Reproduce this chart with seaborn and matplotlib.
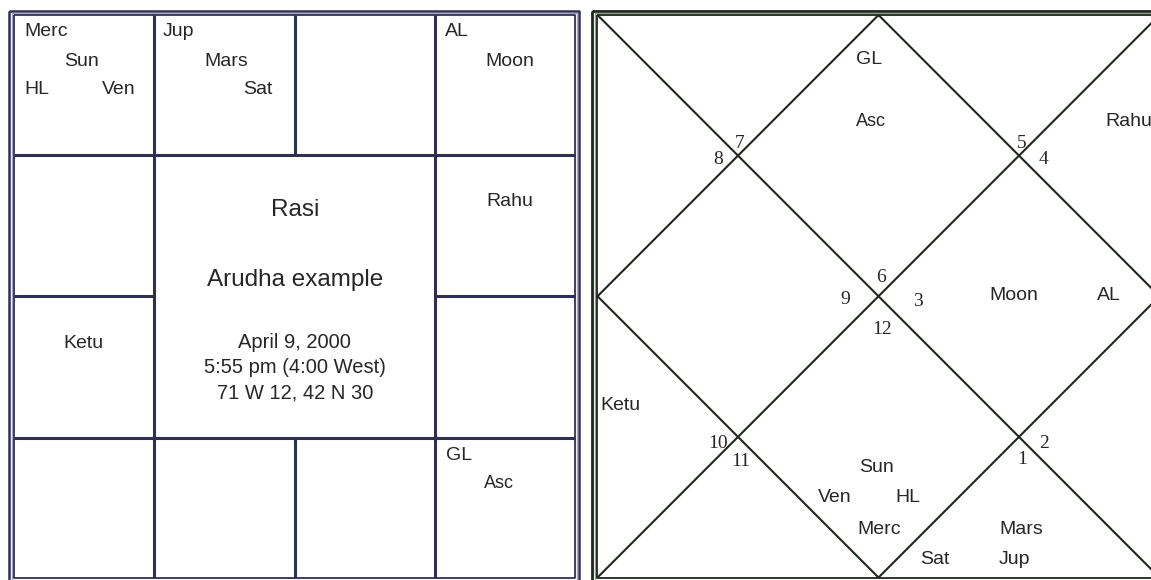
import pandas as pd
import matplotlib.pyplot as plt
import seaborn as sns

# chart texts
south_planets = ["Merc", "Sun", "HL", "Ven", "Jup", "Mars", "Sat",
                 "AL", "Moon", "Rahu", "Ketu", "GL", "Asc"]
south_title = "Rasi"
south_subtitle = "Arudha example"
birth_info = ["April 9, 2000", "5:55 pm (4:00 West)", "71 W 12, 42 N 30"]

north_planets = ["GL", "Asc", "Rahu", "Moon", "AL", "Ketu",
                 "Sun", "Ven", "HL", "Merc", "Mars", "Sat", "Jup"]
north_signs = ["7", "8", "5", "4", "6", "9", "3", "12", "10", "11", "2", "1"]

# layout (pixel coords of the picture)
south_pos = [(24, 32, "left"), (82, 61, "center"), (24, 90, "left"), (119, 90, "center"),
             (163, 32, "left"), (226, 61, "center"), (258, 90, "center"),
             (445, 32, "left"), (510, 61, "center"), (510, 202, "center"),
             (83, 343, "center"), (446, 455, "left"), (499, 484, "center")]
north_pos = [(869, 60, "center"), (871, 122, "center"), (1105, 122, "left"),
             (989, 295, "left"), (1097, 295, "left"), (600, 405, "left"),
             (877, 467, "center"), (835, 498, "center"), (908, 498, "center"),
             (879, 529, "center"), (1021, 529, "center"), (935, 560, "center"),
             (1014, 560, "center")]
sign_pos = [(740, 143), (718, 160), (1022, 144), (1044, 160), (881, 277), (845, 300),
            (918, 302), (882, 329), (718, 443), (741, 461), (1044, 443), (1022, 460)]


def segs_df(segs):
    rows = []
    for i, pts in enumerate(segs):
        for k, (x, y) in enumerate(pts):
            rows.append({"seg": i, "order": k, "x": x, "y": y})
    return pd.DataFrame(rows)


def rect(x0, y0, x1, y1):
    return [(x0, y0), (x1, y0), (x1, y1), (x0, y1), (x0, y0)]


def draw(ax, segs, color, lw):
    sns.lineplot(data=segs_df(segs), x="x", y="y", units="seg", estimator=None,
                 sort=False, color=color, linewidth=lw, ax=ax, legend=False,
                 solid_capstyle="butt")


sns.set_theme(style="white")
plt.rcParams["font.family"] = ["Liberation Sans", "DejaVu Sans"]

fig = plt.figure(figsize=(11.51, 5.80), dpi=100)
ax = fig.add_axes([0, 0, 1, 1])

# ---- south indian chart ----
navy = "#2f2f52"
xs = [14.5, 154, 295, 435.5, 575]
ys = [15, 155, 296, 437.5, 577.5]
draw(ax, [rect(9.5, 10.5, 579, 585)], navy, 1.8)
draw(ax, [rect(12, 13, 577, 582)], "#a6a6be", 1.0)
draw(ax, [rect(xs[0], ys[0], xs[4], ys[4])], navy, 1.3)
grid = [
    [(xs[0], ys[1]), (xs[4], ys[1])],
    [(xs[0], ys[3]), (xs[4], ys[3])],
    [(xs[0], ys[2]), (xs[1], ys[2])],
    [(xs[3], ys[2]), (xs[4], ys[2])],
    [(xs[1], ys[0]), (xs[1], ys[4])],
    [(xs[3], ys[0]), (xs[3], ys[4])],
    [(xs[2], ys[0]), (xs[2], ys[1])],
    [(xs[2], ys[3]), (xs[2], ys[4])],
]
draw(ax, grid, navy, 2.2)

txt = "#262626"
for name, (x, y, ha) in zip(south_planets, south_pos):
    fam = ["Liberation Sans Narrow", "Liberation Sans"] if name == "Asc" else None
    ax.text(x, y, name, ha=ha, va="center", fontsize=14 if name != "Asc" else 13,
            color=txt, family=fam)

cx = (xs[1] + xs[3]) / 2
ax.text(cx, 210, south_title, ha="center", va="center", fontsize=17.5, color=txt)
ax.text(cx, 280, south_subtitle, ha="center", va="center", fontsize=17.5, color=txt)
for i, line in enumerate(birth_info):
    ax.text(cx, 342 + i * 25.5, line, ha="center", va="center", fontsize=14.5, color=txt)

# ---- north indian chart ----
green = "#1c281c"
L, T, R, B = 597.5, 15, 1159.5, 577.5
mx, my = (L + R) / 2, (T + B) / 2
draw(ax, [rect(592, 11, 1200, 590)], green, 2.0)
draw(ax, [rect(594.8, 13, 1200, 588)], "#8d9a8d", 1.0)
draw(ax, [rect(L, T, R, B)], green, 1.3)
lines = [
    [(L, T), (R, B)],
    [(R, T), (L, B)],
    [(mx, T), (R, my), (mx, B), (L, my), (mx, T)],
]
draw(ax, lines, green, 1.5)

for name, (x, y, ha) in zip(north_planets, north_pos):
    fam = ["Liberation Sans Narrow", "Liberation Sans"] if name == "Asc" else None
    ax.text(x, y, name, ha=ha, va="center", fontsize=14 if name != "Asc" else 13,
            color=txt, family=fam)

for s, (x, y) in zip(north_signs, sign_pos):
    ax.text(x, y, s, ha="center", va="center", fontsize=14, color=txt,
            family=["Liberation Serif", "DejaVu Serif"])

ax.set_xlim(0, 1151)
ax.set_ylim(580, 0)
ax.axis("off")
fig.savefig("out.png", dpi=100, facecolor="white")
